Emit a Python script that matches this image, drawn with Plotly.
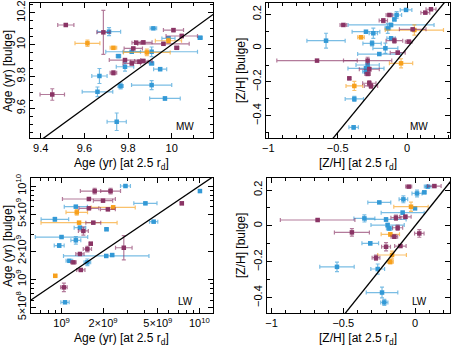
import numpy as np
import plotly.graph_objects as go

COL = {"P": "#8a3465", "B": "#3399d6", "O": "#f7a01c"}
ECOL = {"P": "rgba(138,52,101,0.65)", "B": "rgba(51,153,214,0.65)", "O": "rgba(247,160,28,0.65)"}
FONT = "Liberation Sans, Arial, sans-serif"

# ---------------- Panel 1: MW log age (yr) ----------------
p1_group = ["P", "P", "B", "O", "O", "P", "P", "P", "B", "B", "B", "P", "O", "P", "P", "P",
            "B", "O", "B", "B", "P", "P", "P", "P", "B", "B", "B", "P", "B", "B", "B", "B",
            "B", "P", "B"]
p1_x = [9.515, 9.687, 9.713, 9.614, 9.733, 9.837, 9.870, 10.008, 9.916, 9.985, 10.130, 10.046,
        9.985, 9.962, 10.023, 9.824, 9.908, 9.886, 9.817, 9.756, 9.786, 9.817, 9.852, 9.870,
        9.908, 9.786, 9.947, 9.733, 9.669, 9.766, 9.660, 9.908, 9.969, 9.453, 9.748]
p1_xerr = [0.037, 0.030, 0.053, 0.057, 0.015, 0.019, 0.040, 0.046, 0.015, 0.030, 0.010, 0.072,
           0.060, 0.118, 0.010, 0.042, 0.210, 0.107, 0.040, 0.010, 0.072, 0.040, 0.040, 0.040,
           0.010, 0.040, 0.030, 0.015, 0.035, 0.012, 0.070, 0.092, 0.070, 0.056, 0.044]
p1_y = [10.123, 10.077, 10.081, 10.008, 9.980, 10.012, 10.014, 10.091, 10.102, 10.039, 10.043,
        10.054, 10.024, 10.005, 9.980, 9.976, 9.955, 9.951, 9.955, 9.928, 9.903, 9.882, 9.892,
        9.897, 9.882, 9.861, 9.846, 9.823, 9.803, 9.740, 9.704, 9.746, 9.662, 9.687, 9.516]
p1_yerr = [0.008, 0.138, 0.025, 0.020, 0.008, 0.008, 0.008, 0.010, 0.005, 0.010, 0.008, 0.010,
           0.015, 0.008, 0.008, 0.005, 0.030, 0.020, 0.008, 0.010, 0.008, 0.010, 0.010, 0.010,
           0.008, 0.028, 0.010, 0.013, 0.047, 0.018, 0.030, 0.028, 0.010, 0.036, 0.055]

# ---------------- Panel 2: MW [Z/H] ----------------
p2_group = ["B", "P", "P", "B", "P", "P", "B", "P", "B", "B", "O", "P", "B", "B", "O", "B",
            "B", "P", "B", "P", "B", "B", "P", "P", "P", "O", "B", "B", "P", "B", "P", "P",
            "P", "P", "O", "B", "B"]
p2_x = [-0.007, 0.173, 0.132, -0.075, -0.127, -0.171, -0.091, -0.459, -0.115, -0.139, 0.053,
        0.041, -0.296, -0.243, -0.332, -0.584, -0.115, -0.091, -0.252, 0.012, -0.156, -0.200,
        -0.067, -0.649, -0.284, -0.043, -0.284, -0.296, -0.272, -0.296, -0.284, -0.416, -0.272,
        -0.260, -0.380, -0.380, -0.385]
p2_xerr = [0.042, 0.036, 0.032, 0.036, 0.024, 0.030, 0.010, 0.024, 0.310, 0.020, 0.210, 0.096,
           0.100, 0.030, 0.024, 0.138, 0.030, 0.060, 0.066, 0.024, 0.090, 0.156, 0.054, 0.290,
           0.174, 0.084, 0.084, 0.130, 0.072, 0.024, 0.020, 0.008, 0.048, 0.048, 0.060, 0.066,
           0.034]
p2_y = [0.226, 0.230, 0.210, 0.196, 0.196, 0.163, 0.170, 0.137, 0.137, 0.117, 0.107, 0.111,
        0.097, 0.088, 0.064, 0.044, 0.058, 0.044, 0.028, 0.038, -0.001, -0.035, -0.027, -0.074,
        -0.074, -0.090, -0.100, -0.120, -0.125, -0.139, -0.153, -0.179, -0.208, -0.224, -0.224,
        -0.301, -0.469]
p2_yerr = [0.005, 0.005, 0.006, 0.020, 0.005, 0.012, 0.008, 0.005, 0.010, 0.030, 0.030, 0.006,
           0.005, 0.030, 0.008, 0.044, 0.010, 0.015, 0.015, 0.010, 0.030, 0.005, 0.010, 0.005,
           0.020, 0.027, 0.010, 0.010, 0.012, 0.012, 0.008, 0.006, 0.015, 0.015, 0.027, 0.015,
           0.010]

# ---------------- Panel 3: LW age (yr), errors in dex ----------------
p3_group = ["B", "P", "P", "B", "P", "P", "P", "B", "B", "P", "P", "O", "O", "B", "O", "P",
            "B", "B", "B", "P", "B", "B", "P", "B", "P", "P", "P", "B", "B", "B", "P", "B",
            "P", "O", "P", "B"]
p3_x = [2.91e9, 1.74e9, 2.27e9, 1.01e10, 1.58e9, 2.00e9, 7.46e9, 4.06e9, 1.27e9, 1.58e9,
        2.17e9, 2.37e9, 1.29e9, 8.95e8, 1.34e9, 1.70e9, 4.66e9, 1.36e9, 2.12e9, 1.44e9,
        1.00e9, 1.27e9, 1.63e9, 9.62e8, 1.54e9, 2.83e9, 1.36e9, 2.11e9, 2.33e9, 1.14e9,
        1.22e9, 1.54e9, 1.38e9, 9.00e8, 1.04e9, 1.06e9]
p3_xerr_dex = [0.036, 0.104, 0.072, 0.010, 0.192, 0.070, 0.010, 0.084, 0.084, 0.072, 0.054,
               0.160, 0.078, 0.100, 0.276, 0.054, 0.030, 0.042, 0.010, 0.036, 0.190, 0.036,
               0.010, 0.036, 0.030, 0.060, 0.030, 0.310, 0.010, 0.024, 0.020, 0.024, 0.030,
               0.010, 0.024, 0.030]
p3_y = [1.00e10, 8.83e9, 8.83e9, 8.83e9, 7.26e9, 6.97e9, 6.52e9, 6.52e9, 6.01e9, 5.77e9,
        5.62e9, 5.90e9, 5.22e9, 4.40e9, 4.05e9, 4.05e9, 4.15e9, 3.58e9, 3.44e9, 3.30e9,
        2.84e9, 2.62e9, 2.41e9, 2.30e9, 2.11e9, 2.18e9, 1.87e9, 1.78e9, 1.82e9, 1.58e9,
        1.52e9, 1.52e9, 1.26e9, 1.09e9, 8.20e8, 5.67e8]
p3_yerr_dex = [0.010, 0.030, 0.030, 0.010, 0.010, 0.010, 0.010, 0.010, 0.010, 0.010, 0.010,
               0.020, 0.030, 0.020, 0.010, 0.010, 0.010, 0.010, 0.010, 0.045, 0.010, 0.040,
               0.010, 0.020, 0.030, 0.130, 0.010, 0.010, 0.010, 0.010, 0.010, 0.036, 0.010,
               0.010, 0.045, 0.010]

# ---------------- Panel 4: LW [Z/H] ----------------
p4_group = ["P", "P", "B", "B", "B", "B", "B", "O", "B", "B", "P", "P", "P", "B", "B", "B",
            "B", "P", "P", "O", "P", "P", "B", "P", "P", "O", "P", "O", "B", "B", "B", "B"]
p4_x = [-0.044, 0.135, 0.088, 0.014, 0.065, -0.249, -0.081, -0.028, 0.000, -0.086, -0.067,
        -0.133, -0.679, -0.353, -0.202, -0.191, -0.179, -0.121, -0.440, -0.172, 0.030, -0.144,
        -0.312, -0.202, -0.102, -0.160, -0.272, -0.172, -0.544, -0.260, -0.230, -0.214]
p4_xerr = [0.021, 0.047, 0.023, 0.035, 0.010, 0.080, 0.030, 0.120, 0.010, 0.150, 0.040, 0.035,
           0.260, 0.073, 0.140, 0.116, 0.020, 0.035, 0.122, 0.064, 0.033, 0.023, 0.058, 0.031,
           0.040, 0.100, 0.027, 0.021, 0.120, 0.048, 0.110, 0.025]
p4_y = [0.219, 0.222, 0.219, 0.181, 0.187, 0.131, 0.148, 0.107, 0.098, 0.074, 0.051, 0.046,
        0.033, 0.042, 0.036, 0.005, -0.014, -0.010, -0.036, -0.047, -0.042, -0.060, -0.097,
        -0.116, -0.112, -0.162, -0.177, -0.200, -0.228, -0.240, -0.371, -0.426]
p4_yerr = [0.005, 0.006, 0.006, 0.019, 0.006, 0.005, 0.019, 0.026, 0.006, 0.008, 0.010, 0.015,
           0.005, 0.020, 0.010, 0.010, 0.010, 0.015, 0.021, 0.010, 0.021, 0.010, 0.008, 0.023,
           0.006, 0.022, 0.015, 0.012, 0.026, 0.028, 0.030, 0.017]

fig = go.Figure()


def add_points(group, x, xe, y, ye, xa, ya, log=False):
    group = np.array(group)
    x = np.array(x); y = np.array(y); xe = np.array(xe); ye = np.array(ye)
    for g in ["B", "O", "P"]:
        m = group == g
        if log:
            exp = dict(type="data", array=x[m] * (10 ** xe[m] - 1), arrayminus=x[m] * (1 - 10 ** -xe[m]),
                       color=ECOL[g], thickness=1.2, width=2)
            eyp = dict(type="data", array=y[m] * (10 ** ye[m] - 1), arrayminus=y[m] * (1 - 10 ** -ye[m]),
                       color=ECOL[g], thickness=1.2, width=2)
        else:
            exp = dict(type="data", array=xe[m], color=ECOL[g], thickness=1.2, width=2)
            eyp = dict(type="data", array=ye[m], color=ECOL[g], thickness=1.2, width=2)
        fig.add_trace(go.Scatter(x=x[m], y=y[m], mode="markers", xaxis=xa, yaxis=ya,
                                 marker=dict(symbol="square", size=4.5, color=COL[g]),
                                 error_x=exp, error_y=eyp, showlegend=False, hoverinfo="skip"))


add_points(p1_group, p1_x, p1_xerr, p1_y, p1_yerr, "x", "y")
add_points(p2_group, p2_x, p2_xerr, p2_y, p2_yerr, "x2", "y2")
add_points(p3_group, p3_x, p3_xerr_dex, p3_y, p3_yerr_dex, "x3", "y3", log=True)
add_points(p4_group, p4_x, p4_xerr, p4_y, p4_yerr, "x4", "y4")

# axis ranges
r1x = [9.351, 10.189]; r1y = [9.414, 10.261]
r2x = [-1.017, 0.31]; r2y = [-0.532, 0.267]
r3x = [8.7785, 10.099]; r3y = [8.639, 10.086]
r4x = [-1.032, 0.244]; r4y = [-0.485, 0.267]

# one-to-one lines
for xa, ya, lo, hi in [("x", "y", 9.3, 10.3), ("x2", "y2", -1.1, 0.4), ("x4", "y4", -1.1, 0.4)]:
    fig.add_trace(go.Scatter(x=[lo, hi], y=[lo, hi], mode="lines", xaxis=xa, yaxis=ya,
                             line=dict(color="black", width=1.3), showlegend=False, hoverinfo="skip"))
fig.add_trace(go.Scatter(x=[10 ** 8.7, 10 ** 10.2], y=[10 ** 8.7, 10 ** 10.2], mode="lines",
                         xaxis="x3", yaxis="y3", line=dict(color="black", width=1.3),
                         showlegend=False, hoverinfo="skip"))

W, H = 452, 350
def dx(a, b):
    return [a / W, b / W]
def dy(top, bot):
    return [(H - bot) / H, (H - top) / H]

base = dict(showline=True, linecolor="black", linewidth=1, mirror="allticks", ticks="inside",
            ticklen=5, tickwidth=1, tickcolor="black", showgrid=False, zeroline=False,
            tickfont=dict(family=FONT, size=11, color="black"), automargin=False)
minor = lambda d: dict(dtick=d, ticks="inside", ticklen=3, tickwidth=1, tickcolor="black", showgrid=False)

lay = dict(
    width=W, height=H, margin=dict(l=0, r=0, t=0, b=0), paper_bgcolor="white", plot_bgcolor="white",
    showlegend=False,
    xaxis=dict(base, domain=dx(30, 213), range=r1x, dtick=0.2, tick0=0, minor=minor(0.1), anchor="y"),
    yaxis=dict(base, domain=dy(3, 138), range=r1y, dtick=0.2, tick0=0, minor=minor(0.05), anchor="x", tickangle=-90),
    xaxis2=dict(base, domain=dx(266, 450), range=r2x, dtick=0.5, tick0=0, minor=minor(0.1), anchor="y2"),
    yaxis2=dict(base, domain=dy(3, 138), range=r2y, dtick=0.2, tick0=0, minor=minor(0.1), anchor="x2", tickangle=-90),
    xaxis3=dict(base, domain=dx(31, 213), type="log", range=r3x, anchor="y3",
                tickmode="array", tickvals=[1e9, 2e9, 5e9, 1e10],
                ticktext=["10<sup>9</sup>", "2×10<sup>9</sup>", "5×10<sup>9</sup>", "10<sup>10</sup>"],
                minor=dict(tickmode="array", tickvals=[6e8, 7e8, 8e8, 9e8, 3e9, 4e9, 6e9, 7e9, 8e9, 9e9],
                           ticks="inside", ticklen=3, tickwidth=1, tickcolor="black")),
    yaxis3=dict(base, domain=dy(178, 313), type="log", range=r3y, anchor="x3", tickangle=-90,
                tickmode="array", tickvals=[5e8, 1e9, 2e9, 5e9, 1e10],
                ticktext=["5×10<sup>8</sup>", "10<sup>9</sup>", "2×10<sup>9</sup>", "5×10<sup>9</sup>", "10<sup>10</sup>"],
                minor=dict(tickmode="array", tickvals=[6e8, 7e8, 8e8, 9e8, 3e9, 4e9, 6e9, 7e9, 8e9, 9e9],
                           ticks="inside", ticklen=3, tickwidth=1, tickcolor="black")),
    xaxis4=dict(base, domain=dx(267, 450), range=r4x, dtick=0.5, tick0=0, minor=minor(0.1), anchor="y4"),
    yaxis4=dict(base, domain=dy(178, 313), range=r4y, dtick=0.2, tick0=0, minor=minor(0.1), anchor="x4", tickangle=-90),
)
fig.update_layout(**lay)

ann = []
def A(text, x, y, angle=0, size=12):
    ann.append(dict(text=text, x=x / W, y=(H - y) / H, xref="paper", yref="paper", showarrow=False,
                    textangle=angle, font=dict(family=FONT, size=size, color="black"),
                    xanchor="center", yanchor="middle"))

A("Age (yr) [at 2.5 r<sub>d</sub>]", 121, 164)
A("[Z/H] [at 2.5 r<sub>d</sub>]", 358, 164)
A("Age (yr) [at 2.5 r<sub>d</sub>]", 121, 339)
A("[Z/H] [at 2.5 r<sub>d</sub>]", 358, 339)
A("Age (yr) [bulge]", 8, 71, -90)
A("[Z/H] [bulge]", 241, 71, -90)
A("Age (yr) [bulge]", 8, 246, -90)
A("[Z/H] [bulge]", 241, 246, -90)
A("MW", 185, 126, 0, 10)
A("MW", 419, 126, 0, 10)
A("LW", 185, 301, 0, 10)
A("LW", 419, 301, 0, 10)
fig.update_layout(annotations=ann)

fig.write_html("out.html", config={"displayModeBar": False},
               post_script="document.body.style.margin='0px';document.body.style.overflow='hidden';")
